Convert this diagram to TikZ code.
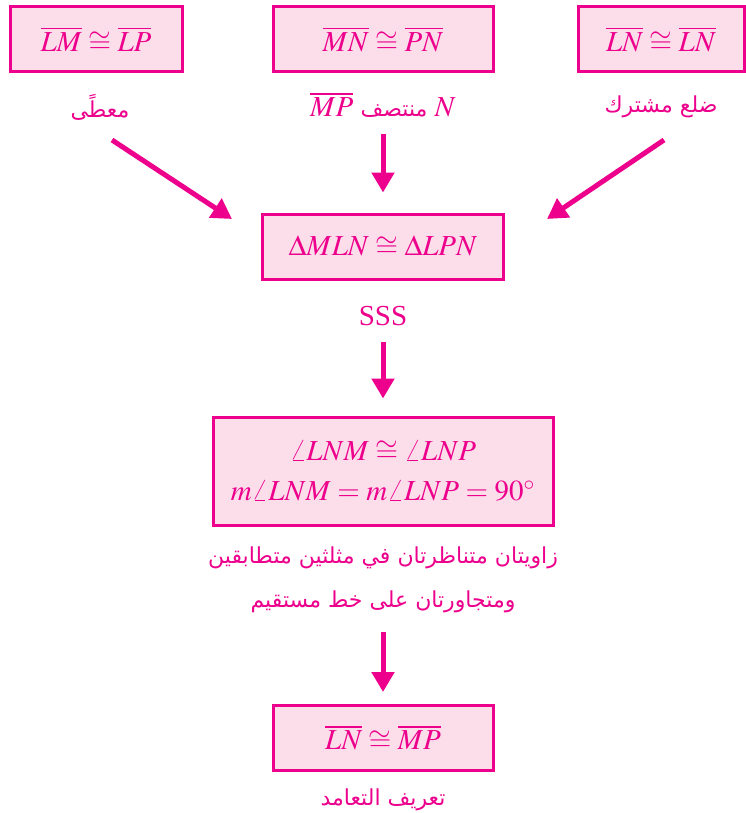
\documentclass[tikz,border=0pt]{standalone}
\usepackage{mathptmx}
\usepackage{fontspec}
\setmainfont{Liberation Serif}
\newfontfamily\arabicfont[Script=Arabic]{DejaVu Sans}
\TeXXeTstate=1
\usetikzlibrary{arrows.meta,positioning}
\definecolor{proofpink}{RGB}{236,0,140}
\definecolor{proofbg}{RGB}{252,222,234}
\newcommand\artext[1]{{\arabicfont\fontsize{11}{22}\selectfont\beginR #1\endR}}

\begin{document}
\begin{tikzpicture}[
  x=0.5pt, y=-0.5pt,
  stmt/.style={rectangle, draw=proofpink, line width=1.5pt, fill=proofbg,
               minimum height=32.5pt, align=center, text=proofpink,
               font=\fontsize{14.5}{20}\selectfont},
  reason/.style={text=proofpink, align=center,
                 font=\fontsize{14.5}{22}\selectfont},
  arrow/.style={-{Triangle[length=10pt,width=11pt]}, line width=2.5pt,
                draw=proofpink},
]
  \useasboundingbox (0,0) rectangle (745,813);

  % given statements
  \node[stmt, minimum width=86pt] (lmlp) at (96,39.5)
    {$\overline{LM}\cong\overline{LP}$};
  \node[stmt, minimum width=110pt] (mnpn) at (383,39.5)
    {$\overline{MN}\cong\overline{PN}$};
  \node[stmt, minimum width=83pt] (lnln) at (661,39.5)
    {$\overline{LN}\cong\overline{LN}$};

  \node[reason] (given) at (100,107) {\artext{معطًى}};
  \node[reason] (midpt) at (383,105)
    {$\overline{MP}$ \artext{منتصف} $N$};
  \node[reason] (common) at (661,107) {\artext{ضلع مشترك}};

  % triangles
  \node[stmt, minimum width=120.5pt] (tri) at (383,246.5)
    {$\Delta MLN\cong\Delta LPN$};
  \node[reason] (sss) at (383,316) {SSS};

  % angles
  \node[stmt, minimum width=170pt, minimum height=54pt] (angles) at (383,471)
    {$\angle LNM\cong\angle LNP$\\$m\angle LNM=m\angle LNP=90^\circ$};
  \node[reason] (linpair) at (383,580)
    {\artext{زاويتان متناظرتان في مثلثين متطابقين}\\
     \artext{ومتجاورتان على خط مستقيم}};

  % conclusion
  \node[stmt, minimum width=110pt] (perp) at (383,738)
    {$\overline{LN}\cong\overline{MP}$};
  \node[reason] (defperp) at (383,800) {\artext{تعريف التعامد}};

  \coordinate (fromL) at (112,140);
  \coordinate (toL) at (232,219);
  \coordinate (fromR) at (664,140);
  \coordinate (toR) at (547,219);

  \draw[arrow] (fromL) -- (toL);
  \draw[arrow] (fromR) -- (toR);
  \draw[arrow, shorten <=4.5pt, shorten >=10pt] (midpt) -- (tri);
  \draw[arrow, shorten <=4.5pt, shorten >=8.5pt] (sss) -- (angles);
  \draw[arrow, shorten <=6pt, shorten >=6pt] (linpair) -- (perp);
\end{tikzpicture}
\end{document}
